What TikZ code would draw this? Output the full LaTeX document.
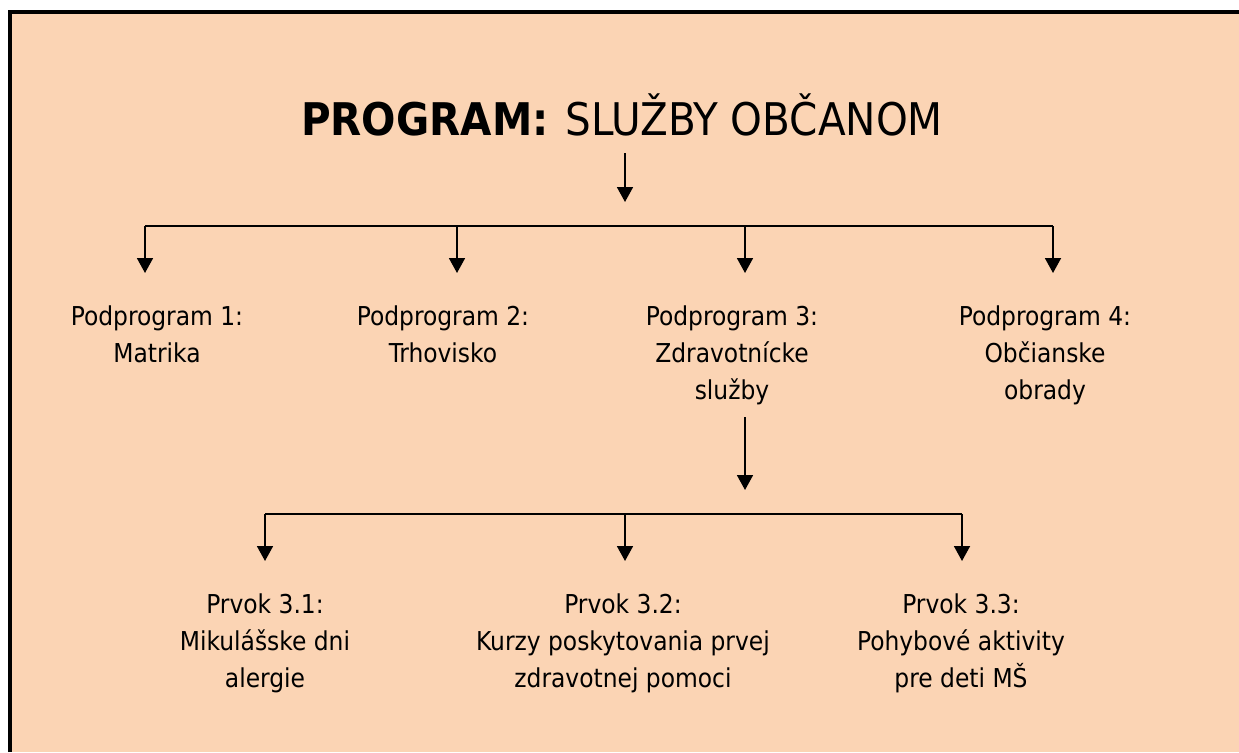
\documentclass[tikz,border=0pt]{standalone}
\usepackage{fontspec}
\setmainfont{DejaVu Sans Condensed}
\usetikzlibrary{arrows.meta}
\definecolor{peach}{HTML}{FBD4B4}
\begin{document}
\begin{tikzpicture}[x=1pt,y=-1pt,
  label/.style={align=center,inner sep=0pt,anchor=base,
    font=\fontsize{26}{37}\selectfont},
  arr/.style={line width=1.8pt,-{Triangle[width=16pt,length=15pt]}},
  bar/.style={line width=1.8pt}]
\useasboundingbox (0,0) rectangle (1239,752);
% page background and frame
\fill[peach] (8,10) rectangle (1239,752);
\draw[line width=4pt] (10,752) -- (10,12) -- (1239,12);

% title
\node[inner sep=0pt,anchor=base,font=\fontsize{45}{50}\selectfont] (title) at (622,135)
  {\textbf{PROGRAM:}\hspace{4pt} SLUŽBY OBČANOM};

% subprograms (anchored at the baseline of the last line)
\node[label] (p1) at (157,362) {Podprogram 1:\\Matrika};
\node[label] (p2) at (443,362) {Podprogram 2:\\Trhovisko};
\node[label] (p3) at (732,399) {Podprogram 3:\\Zdravotnícke\\služby};
\node[label] (p4) at (1045,399) {Podprogram 4:\\Občianske\\obrady};

% elements of subprogram 3
\node[label] (e1) at (265,687) {Prvok 3.1:\\Mikulášske dni\\alergie};
\node[label] (e2) at (623,687) {Prvok 3.2:\\Kurzy poskytovania prvej\\zdravotnej pomoci};
\node[label] (e3) at (961,687) {Prvok 3.3:\\Pohybové aktivity\\pre deti MŠ};

% connector points
\coordinate (ts) at (625,153);
\coordinate (te) at (625,202);
\coordinate (b1) at (145,226);
\coordinate (b2) at (457,226);
\coordinate (b3) at (745,226);
\coordinate (b4) at (1053,226);
\coordinate (a1) at (145,273);
\coordinate (a2) at (457,273);
\coordinate (a3) at (745,273);
\coordinate (a4) at (1053,273);
\coordinate (ss) at (745,417);
\coordinate (se) at (745,490);
\coordinate (c1) at (265,514);
\coordinate (c2) at (625,514);
\coordinate (c3) at (962,514);
\coordinate (d1) at (265,561);
\coordinate (d2) at (625,561);
\coordinate (d3) at (962,561);

% first level
\draw[arr] (ts) -- (te);
\draw[bar] (b1) -- (b4);
\foreach \i in {1,2,3,4} \draw[arr] (b\i) -- (a\i);

% second level
\draw[arr] (ss) -- (se);
\draw[bar] (c1) -- (c3);
\foreach \i in {1,2,3} \draw[arr] (c\i) -- (d\i);
\end{tikzpicture}
\end{document}
